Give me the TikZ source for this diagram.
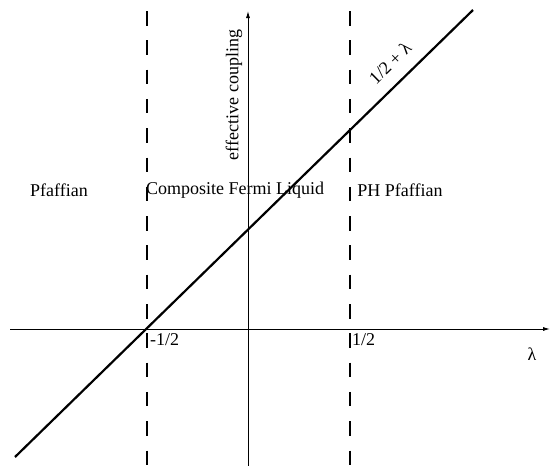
\documentclass[tikz,border=0pt]{standalone}
\usepackage{fontspec}
\setmainfont{Liberation Serif}
\usetikzlibrary{arrows.meta}
\begin{document}
\begin{tikzpicture}[x=1pt,y=-1pt,
  axis/.style={line width=0.9pt,-{Latex[length=7pt,width=4pt]}},
  phase/.style={line width=1.2pt,dash pattern=on 14.5pt off 14.8pt},
  coupling/.style={line width=2.2pt},
  lbl/.style={inner sep=0pt,font=\fontsize{18}{21}\selectfont}]
\useasboundingbox (0,0) rectangle (550,466);
% axes
\coordinate (xs) at (10,329);
\coordinate (xe) at (550,329);
\coordinate (ys) at (248,466);
\coordinate (ye) at (248,11);
\draw[axis] (xs) -- (xe);
\draw[axis] (ys) -- (ye);
% phase boundaries
\coordinate (l1) at (147,11);
\coordinate (l2) at (147,466);
\coordinate (r1) at (350,11);
\coordinate (r2) at (350,466);
\draw[phase] (l1) -- (l2);
\draw[phase] (r1) -- (r2);
% effective coupling line
\coordinate (c1) at (15,457);
\coordinate (c2) at (473,10);
\draw[coupling] (c1) -- (c2);
% labels
\node[lbl] (pf) at (59,190) {Pfaffian};
\node[lbl] (cfl) at (235,190) {Composite Fermi Liquid};
\node[lbl] (php) at (400,190) {PH Pfaffian};
\node[lbl,anchor=west] (mh) at (150,340) {-1/2};
\node[lbl,anchor=west] (ph) at (352,340) {1/2};
\node[lbl] (lam) at (532,354) {λ};
\node[lbl,rotate=90] (ec) at (234,95) {effective coupling};
\node[lbl,rotate=44.3] (cl) at (390,63) {1/2 + λ};
\end{tikzpicture}
\end{document}
